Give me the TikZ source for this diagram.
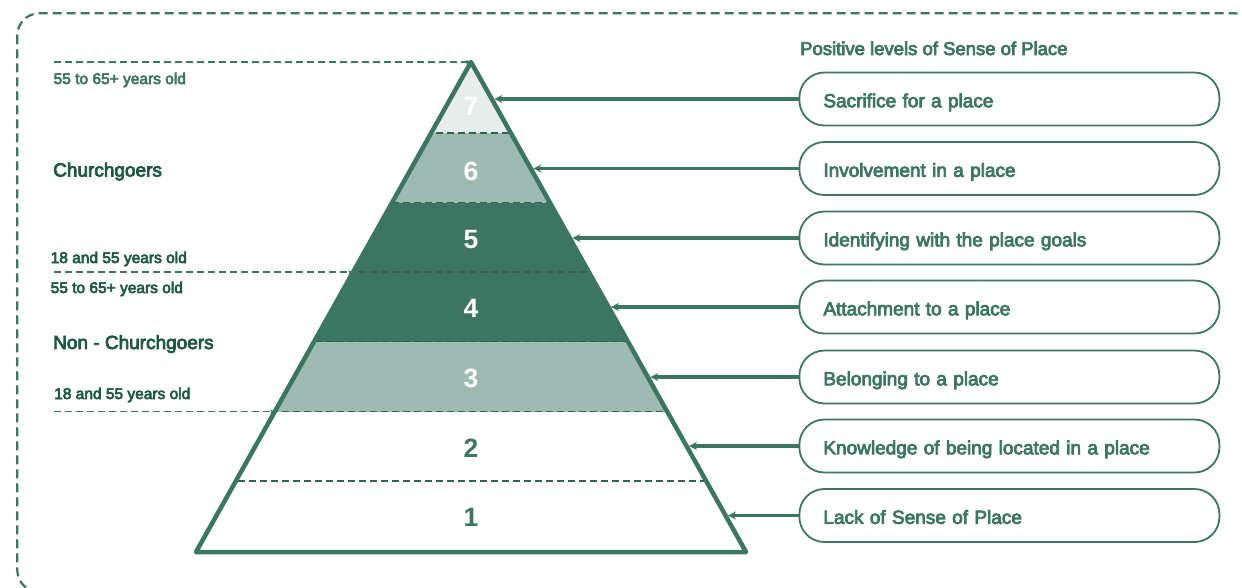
\documentclass[tikz,border=0pt]{standalone}
\usepackage{fontspec}
\setmainfont{Liberation Sans}
\newfontfamily\semi{Liberation Sans}[FakeBold=4]
\usetikzlibrary{arrows.meta,calc}
\definecolor{pg}{HTML}{3D7563}
\definecolor{pgdark}{HTML}{1E5843}
\definecolor{pgmid}{HTML}{9FBAB2}
\definecolor{pglight}{HTML}{E6EDEA}
\definecolor{pgline}{HTML}{2E6552}
\begin{document}
\begin{tikzpicture}[x=1pt,y=-1pt,
  box/.style={draw=pg,line width=1.8pt,rounded corners=25pt,minimum width=420pt,minimum height=53pt,inner xsep=24pt,inner ysep=0pt,text width=372pt,text height=16.6pt,text depth=0pt,align=left,anchor=west,text=pg,font=\semi\fontsize{19}{22}\selectfont},
  arr/.style={draw=pg,line width=3.2pt,-{Stealth[length=8pt,width=8pt]}},
  lvl/.style={draw=pgline,line width=1.7pt,dash pattern=on 7pt off 4pt},
  sidearr/.style={draw=pg,line width=1.7pt,dash pattern=on 7pt off 4pt,-{Stealth[length=5pt,width=4pt]}},
  num/.style={anchor=base,font=\bfseries\fontsize{26.5}{30}\selectfont},
  small/.style={anchor=base west,text=pgdark,inner sep=0pt,font=\semi\fontsize{15.5}{18}\selectfont},
  group/.style={anchor=base west,text=pgdark,inner sep=0pt,font=\semi\fontsize{19}{22}\selectfont}]
\useasboundingbox (0,0) rectangle (1242,587);
% frame
\draw[pg,line width=2.2pt,dash pattern=on 9pt off 5pt,rounded corners=22pt] (17.3,13.3) rectangle (1257,592);
% pyramid coordinates
\coordinate (apex) at (471,62);
\coordinate (bl) at (196,552);
\coordinate (br) at (746,552);
% bands
\begin{scope}
\clip (apex) -- (bl) -- (br) -- cycle;
\fill[pglight] (150,40) rectangle (800,133);
\fill[pgmid] (150,133) rectangle (800,202.5);
\fill[pg] (150,202.5) rectangle (800,341.5);
\fill[pgmid] (150,341.5) rectangle (800,411.5);
\draw[lvl] (150,133) -- (800,133);
\draw[lvl] (150,202.5) -- (800,202.5);
\draw[lvl] (150,272.3) -- (800,272.3);
\draw[lvl] (150,341.5) -- (800,341.5);
\draw[lvl] (150,411.5) -- (800,411.5);
\draw[lvl] (150,481) -- (800,481);
\end{scope}
% side dashed lines
\coordinate (s1) at (54,62);
\coordinate (s2) at (54,272.3);
\coordinate (l2) at (353,272.3);
\coordinate (s3) at (54,411.5);
\coordinate (l3) at (275,411.5);
\draw[sidearr] (s1) -- (apex);
\draw[sidearr] (s2) -- (l2);
\draw[sidearr] (s3) -- (l3);
% outline
\draw[pg,line width=4.5pt,line join=round] (apex) -- (bl) -- (br) -- cycle;
% numbers
\node[num,text=white] (n7) at (471,115.7) {7};
\node[num,text=white] (n6) at (471,180) {6};
\node[num,text=white] (n5) at (471,248) {5};
\node[num,text=white] (n4) at (471,317) {4};
\node[num,text=white] (n3) at (471,387) {3};
\node[num,text=pg] (n2) at (471,457) {2};
\node[num,text=pg] (n1) at (471,526) {1};
% left labels
\node[small,text=pg] (a1) at (53.5,84) {55 to 65+ years old};
\node[group] (g1) at (53,176.5) {Churchgoers};
\node[small] (a2) at (50.5,263) {18 and 55 years old};
\node[small] (a3) at (50.5,293) {55 to 65+ years old};
\node[group] (g2) at (53,349) {Non - Churchgoers};
\node[small] (a4) at (54,399) {18 and 55 years old};
% heading
\node[anchor=base west,inner sep=0pt,text=pg,font=\semi\fontsize{18.5}{22}\selectfont] (hd) at (800,55) {Positive levels of Sense of Place};
% boxes
\node[box] (b7) at (798.5,99) {Sacrifice for a place};
\node[box] (b6) at (798.5,168.5) {Involvement in a place};
\node[box] (b5) at (798.5,238) {Identifying with the place goals};
\node[box] (b4) at (798.5,307) {Attachment to a place};
\node[box] (b3) at (798.5,377) {Belonging to a place};
\node[box] (b2) at (798.5,446) {Knowledge of being located in a place};
\node[box] (b1) at (798.5,515.5) {Lack of Sense of Place};
% edge targets
\coordinate (e7) at (494.3,99);
\coordinate (e6) at (533.3,168.5);
\coordinate (e5) at (572.3,238);
\coordinate (e4) at (611,307);
\coordinate (e3) at (650.3,377);
\coordinate (e2) at (689,446);
\coordinate (e1) at (728,515.5);
\draw[arr] (b7.west) -- (e7);
\draw[arr] (b6.west) -- (e6);
\draw[arr] (b5.west) -- (e5);
\draw[arr] (b4.west) -- (e4);
\draw[arr] (b3.west) -- (e3);
\draw[arr] (b2.west) -- (e2);
\draw[arr] (b1.west) -- (e1);
\end{tikzpicture}
\end{document}
